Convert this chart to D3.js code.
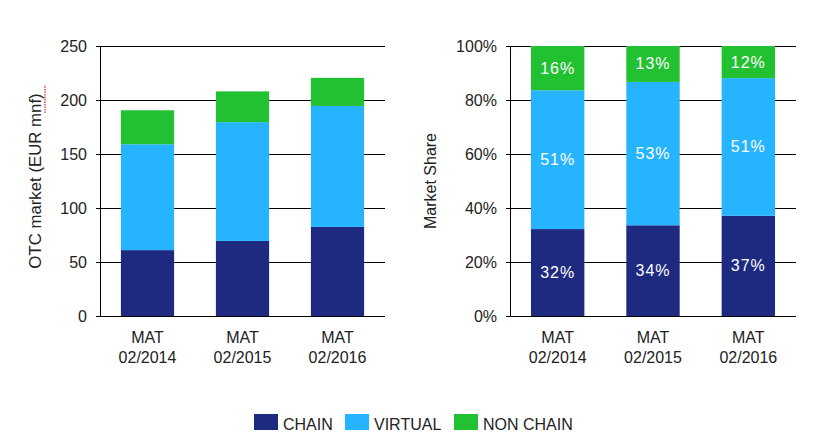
<!DOCTYPE html>
<html>
<head>
<meta charset="utf-8">
<script src="https://cdn.jsdelivr.net/npm/d3@7"></script>
<style>
  html, body { margin: 0; padding: 0; background: #fff; }
  svg { display: block; font-family: "Liberation Sans", Arial, sans-serif; }
</style>
</head>
<body>
<svg id="chart" width="814" height="438"></svg>
<script>
// ---- data ----
const categories = ["MAT\n02/2014", "MAT\n02/2015", "MAT\n02/2016"];
const seriesNames = ["CHAIN", "VIRTUAL", "NON CHAIN"];
const seriesColors = ["#1e2a80", "#27b4ff", "#22c132"];
// left chart: OTC market, EUR mn
const chainValues = [61, 69.5, 82.5];
const virtualValues = [98, 110, 112];
const nonChainValues = [31.5, 28.5, 26];
const leftTicks = [0, 50, 100, 150, 200, 250];
// right chart: market share (%)
const chainShare = [32.2, 33.6, 37.1];
const virtualShare = [51.4, 53.1, 51.0];
const nonChainShare = [16.4, 13.3, 11.9];
const rightTicks = [0, 20, 40, 60, 80, 100];

const svg = d3.select("#chart");
const keys = ["chain", "virtual", "nonchain"];

function buildRows(a, b, c) {
  return categories.map((cat, i) => ({ cat, chain: a[i], virtual: b[i], nonchain: c[i] }));
}

function drawPanel(opts) {
  const { x0, x1, y0, y1, rows, max, ticks, tickFmt, labels } = opts;
  const g = svg.append("g");
  const x = d3.scaleBand().domain(categories).range([x0, x1]).paddingInner(0.44).paddingOuter(0.22);
  const y = d3.scaleLinear().domain([0, max]).range([y1, y0]);

  const yAxis = d3.axisLeft(y).tickValues(ticks).tickFormat(tickFmt)
    .tickSize(-(x1 - x0)).tickSizeOuter(0).tickPadding(13);
  const ya = g.append("g").attr("transform", `translate(${x0},0)`).call(yAxis);
  ya.select(".domain").remove();
  ya.selectAll(".tick line").attr("stroke", "#000").attr("x1", -4).attr("shape-rendering", "crispEdges");
  ya.selectAll(".tick text").attr("fill", "#222").attr("font-size", 16)
    .attr("font-family", "'Liberation Sans', Arial, sans-serif");

  const stack = d3.stack().keys(keys)(rows);
  stack.forEach((layer, li) => {
    g.append("g").attr("fill", seriesColors[li])
      .selectAll("rect").data(layer).join("rect")
      .attr("x", d => x(d.data.cat))
      .attr("width", x.bandwidth())
      .attr("y", d => y(d[1]))
      .attr("height", d => y(d[0]) - y(d[1]));
    if (labels) {
      g.append("g").selectAll("text").data(layer).join("text")
        .attr("x", d => x(d.data.cat) + x.bandwidth() / 2)
        .attr("y", d => (y(d[0]) + y(d[1])) / 2)
        .attr("text-anchor", "middle")
        .attr("dominant-baseline", "central")
        .attr("fill", "#fff")
        .attr("font-size", 16)
        .attr("letter-spacing", "1px")
        .text(d => Math.round(d[1] - d[0]) + "%");
    }
  });

  g.append("line").attr("x1", x0 + 0.5).attr("x2", x0 + 0.5).attr("y1", y0).attr("y2", y1)
    .attr("stroke", "#000");

  const xa = g.append("g").selectAll("text").data(categories).join("text")
    .attr("x", d => x(d) + x.bandwidth() / 2)
    .attr("text-anchor", "middle")
    .attr("fill", "#222")
    .attr("font-size", 16);
  xa.each(function (d) {
    const parts = d.split("\n");
    d3.select(this).selectAll("tspan").data(parts).join("tspan")
      .attr("x", x(d) + x.bandwidth() / 2)
      .attr("y", (p, i) => 343 + i * 20)
      .text(p => p);
  });

  return { g, x, y };
}

// left panel
drawPanel({
  x0: 100, x1: 385, y0: 46, y1: 316,
  rows: buildRows(chainValues, virtualValues, nonChainValues),
  max: 250, ticks: leftTicks, tickFmt: d3.format("d"), labels: false
});
const leftTitle = "OTC market (EUR mnf)";
const ltg = svg.append("g").attr("transform", "translate(41,181) rotate(-90)");
const lt = ltg.append("text")
  .attr("text-anchor", "middle")
  .attr("fill", "#222")
  .attr("font-size", 16.8)
  .text(leftTitle);
// spell-check style dotted red underline under "mnf"
{
  const total = lt.node().getComputedTextLength();
  const meas = ltg.append("text").attr("font-size", 16.8).attr("visibility", "hidden");
  meas.text(leftTitle.slice(0, 17));
  const before = meas.node().getComputedTextLength();
  meas.text("mnf");
  const w = meas.node().getComputedTextLength();
  meas.remove();
  const sx = -total / 2 + before;
  ltg.append("line")
    .attr("x1", sx).attr("x2", sx + w)
    .attr("y1", 4).attr("y2", 4)
    .attr("stroke", "#e02020").attr("stroke-width", 1.2)
    .attr("stroke-dasharray", "1.5,1");
}

// right panel
drawPanel({
  x0: 510, x1: 796, y0: 46, y1: 316,
  rows: buildRows(chainShare, virtualShare, nonChainShare),
  max: 100, ticks: rightTicks, tickFmt: d => d + "%", labels: true
});
svg.append("text")
  .attr("transform", "translate(436,181) rotate(-90)")
  .attr("text-anchor", "middle")
  .attr("fill", "#222")
  .attr("font-size", 16)
  .text("Market Share");

// legend
const legendX = [254, 345, 454];
const lg = svg.append("g").selectAll("g").data(seriesNames).join("g")
  .attr("transform", (d, i) => `translate(${legendX[i]},414)`);
lg.append("rect").attr("width", 24).attr("height", 16).attr("fill", (d, i) => seriesColors[i]);
lg.append("text").attr("x", 29).attr("y", 16).attr("fill", "#222").attr("font-size", 16).text(d => d);
</script>
</body>
</html>
